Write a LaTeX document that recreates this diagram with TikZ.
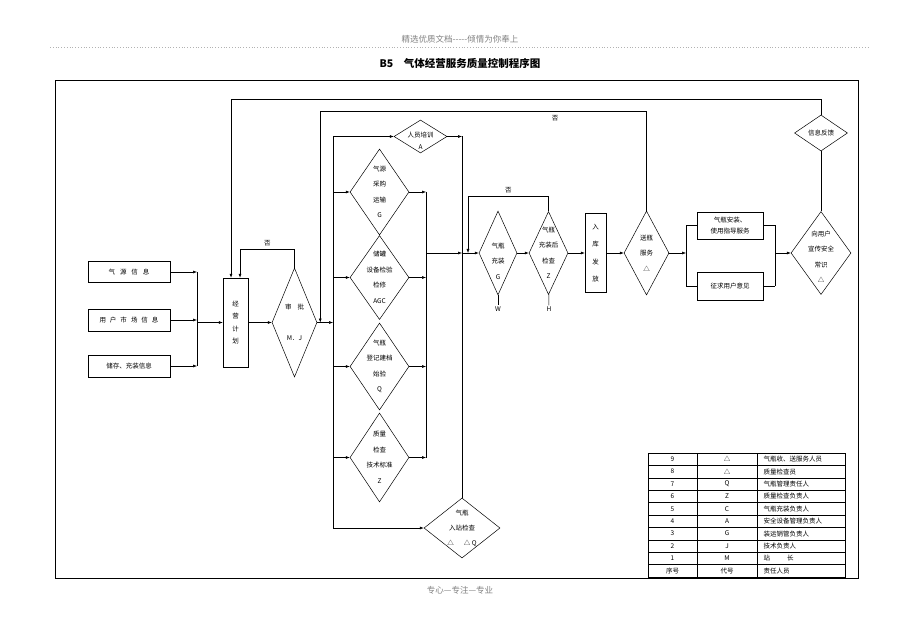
\documentclass[tikz,border=0pt]{standalone}
\usepackage{fontspec}
\setmainfont{Noto Sans CJK SC}
\usetikzlibrary{shapes.geometric,arrows.meta}

\begin{document}
\begin{tikzpicture}[x=1pt,y=-1pt,line width=0.5pt,>={Latex[length=4pt,width=3pt]},
  font=\fontsize{6.5}{8}\selectfont,
  box/.style={draw,rectangle,inner sep=0pt,align=center},
  dia/.style={draw,diamond,inner sep=0pt},
  txt/.style={align=center,inner sep=0pt,font=\fontsize{6.5}{#1}\selectfont},
  txt/.default=15.5]
\useasboundingbox (0,0) rectangle (920,636);
\node[gray,font=\fontsize{8.5}{10}\selectfont] (head) at (460,39) {精选优质文档{-}{-}{-}{-}{-}倾情为你奉上};
\draw[gray!60,dotted,line width=0.8pt] (50,47) -- (870,47);
\node[font=\bfseries\fontsize{10.5}{12}\selectfont] (title) at (460,63) {B5\quad 气体经营服务质量控制程序图};
\draw (55,80) rectangle (858,578);
\node[gray,font=\fontsize{8.5}{10}\selectfont] (foot) at (460,590) {专心---专注---专业};

\node[box,minimum width=82,minimum height=21] (srcinfo) at (129,272) {气\hspace{5pt}源\hspace{5pt}信\hspace{5pt}息};
\node[box,minimum width=82,minimum height=22] (mktinfo) at (129,320) {用\hspace{4pt}户\hspace{4pt}市\hspace{4pt}场\hspace{4pt}信\hspace{4pt}息};
\node[box,minimum width=82,minimum height=22] (stoinfo) at (129,366) {储存、充装信息};
\node[box,minimum width=25,minimum height=89,font=\fontsize{6.5}{12.5}\selectfont] (plan) at (235.5,322.5) {经\\营\\计\\划};
\node[dia,minimum width=45,minimum height=109,label={[txt=31]center:审\hspace{6pt}批\\M．J}] (approve) at (294.5,322.5) {};

\node[dia,minimum width=53,minimum height=33,label={[txt=12,yshift=-4pt]center:人员培训\\A}] (train) at (420.5,136.5) {};
\node[dia,minimum width=59,minimum height=86,label={[txt]center:气源\\采购\\运输\\G}] (gas) at (379.5,192) {};
\node[dia,minimum width=59,minimum height=84,label={[txt]center:储罐\\设备检验\\检修\\AGC}] (tank) at (379.5,277.5) {};
\node[dia,minimum width=59,minimum height=87,label={[txt]center:气瓶\\登记建档\\始验\\Q}] (reg) at (379.5,366.5) {};
\node[dia,minimum width=59,minimum height=89,label={[txt]center:质量\\检查\\技术标准\\Z}] (qc) at (379.5,457.5) {};
\node[dia,minimum width=76,minimum height=60,label={[txt=15]center:气瓶\\入站检查\\△\hspace{10pt}△ Q}] (entry) at (462,528) {};

\node[dia,minimum width=38,minimum height=84,label={[txt,yshift=-8pt]center:气瓶\\充装\\G}] (fill) at (498,253) {};
\node[dia,minimum width=39,minimum height=83,label={[txt]center:气瓶\\充装后\\检查\\Z}] (check) at (548.5,253) {};
\node[inner sep=1pt] (wmark) at (498,309) {W};
\node[inner sep=1pt] (hmark) at (549,309) {H};
\node[box,minimum width=21,minimum height=79,font=\fontsize{6.5}{17.5}\selectfont] (store) at (595.5,253) {入\\库\\发\\放};
\node[dia,minimum width=45,minimum height=84,label={[txt]center:送瓶\\服务\\△}] (deliver) at (646.5,253) {};
\node[box,minimum width=66,minimum height=27,font=\fontsize{6.5}{11}\selectfont] (guide) at (730,225.5) {气瓶安装、\\使用指导服务};
\node[box,minimum width=66,minimum height=28] (opinion) at (730,286) {征求用户意见};
\node[dia,minimum width=60,minimum height=83,label={[txt,yshift=-4pt]center:向用户\\宣传安全\\常识\\△}] (publicity) at (821,253) {};
\node[dia,minimum width=53,minimum height=36,label={[txt]center:信息反馈}] (feedback) at (821,133) {};

\coordinate (inbus) at (197,322.5);
\coordinate (bus) at (333,322.5);
\coordinate (col) at (426,253);
\coordinate (main) at (462,253);
\coordinate (split) at (686,253);
\coordinate (join) at (775,253);

\foreach \n in {srcinfo,mktinfo,stoinfo} \draw[->] (\n) -- (\n -| inbus);
\draw (srcinfo -| inbus) -- (stoinfo -| inbus);
\draw[->] (inbus) -- (plan);
\draw[->] (plan) -- (approve);
\draw[->] (approve.north) -- ++(0,-18) -| ([xshift=4.5pt]plan.north) node[pos=0.25,above]{否};
\draw[->] (feedback.north) -- ++(0,-15) -| ([xshift=-4.5pt]plan.north);
\draw[->] (deliver.north) -- ++(0,-99) -| ([xshift=3pt]approve.east) node[pos=0.14,below]{否};

\draw[->] (approve) -- (bus);
\draw (train -| bus) -- (entry -| bus);
\foreach \n in {train,gas,tank,reg,qc,entry} \draw[->] (\n -| bus) -- (\n);
\foreach \n in {gas,tank,reg,qc} \draw[->] (\n) -- (\n -| col);
\draw (gas -| col) -- (qc -| col);
\draw[->] (col) -- (main);
\draw[->] (train) -- (train -| main);
\draw (train -| main) -- (entry);

\draw[->] (main) -- (fill);
\draw[->] (check.north) -- ++(0,-15) -| ([xshift=6pt]main) node[pos=0.25,above]{否};
\draw[->] (fill) -- (check);
\draw (fill) -- (wmark);
\draw (check) -- (hmark);
\draw[->] (check) -- (store);
\draw[->] (store) -- (deliver);
\draw[->] (deliver) -- (split);
\draw (split |- guide) -- (split |- opinion);
\draw (split |- guide) -- (guide);
\draw (split |- opinion) -- (opinion);
\draw (join |- guide) -- (join |- opinion);
\draw (guide) -- (join |- guide);
\draw (opinion) -- (join |- opinion);
\draw[->] (join) -- (publicity);
\draw (publicity) -- (feedback);

\draw (648,453) rectangle (845,577);
\foreach \i in {1,...,9} \draw (648,453+12.4*\i) -- (845,453+12.4*\i);
\draw (697,453) -- (697,577);
\draw (757,453) -- (757,577);
\foreach \no/\code/\who [count=\i] in {9/△/气瓶收、送服务人员,8/△/质量检查员,7/Q/气瓶管理责任人,6/Z/质量检查负责人,5/C/气瓶充装负责人,4/A/安全设备管理负责人,3/G/装运销管负责人,2/J/技术负责人,1/M/站\hspace{17pt}长,序号/代号/责任人员}{
  \node (no\i) at (672.5,446.8+12.4*\i) {\no};
  \node (code\i) at (727,446.8+12.4*\i) {\code};
  \node[anchor=west] (who\i) at (760,446.8+12.4*\i) {\who};
}
\end{tikzpicture}
\end{document}
